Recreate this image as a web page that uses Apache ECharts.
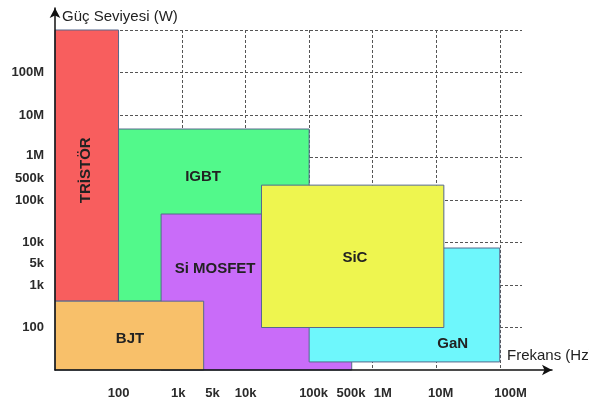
<!DOCTYPE html>
<html>
<head>
<meta charset="utf-8">
<script src="https://cdn.jsdelivr.net/npm/echarts@6/dist/echarts.min.js"></script>
<style>html,body{margin:0;padding:0;background:#fff;}#c{width:589px;height:406px;}</style>
</head>
<body>
<div id="c"></div>
<script>
// Device regions, in chart grid units (one unit = one decade gridline step)
const devices = ['TRİSTÖR', 'IGBT', 'Si MOSFET', 'GaN', 'SiC', 'BJT'];
const freqStart = [0.0, 1.0, 1.67, 4.0, 3.25, 0.0];
const freqEnd   = [1.0, 4.0, 4.67, 7.0, 6.12, 2.34];
const powStart  = [1.62, 1.62, 0.0, 0.19, 1.0, 0.0];
const powEnd    = [8.0, 5.67, 3.67, 2.87, 4.35, 1.62];
const labelFreq = [0.49, 2.33, 2.52, 6.26, 4.72, 1.18];
const labelPow  = [4.7, 4.54, 2.38, 0.61, 2.64, 0.73];
const colors = ['#F85E5E', '#52F98B', '#C96CF9', '#6EF7FC', '#EEF54F', '#F8C06A'];

// Tick labels and where they sit on the axes
const xTickLabels = ['100', '1k', '5k', '10k', '100k', '500k', '1M', '10M', '100M'];
const xTickPos    = [1.0, 1.94, 2.48, 3.0, 4.07, 4.66, 5.16, 6.07, 7.17];
const yTickLabels = ['100', '1k', '5k', '10k', '100k', '500k', '1M', '10M', '100M'];
const yTickPos    = [1.0, 2.0, 2.5, 3.0, 3.98, 4.5, 5.04, 6.0, 7.0];
const xGridLines = [1, 2, 3, 4, 5, 6, 7];
const yGridLines = [1, 2, 3, 4, 5, 6, 7, 8];

function lookup(pos, labels, v) {
  let best = 0, d = Infinity;
  pos.forEach((p, i) => { if (Math.abs(p - v) < d) { d = Math.abs(p - v); best = i; } });
  return labels[best];
}

const data = devices.map((n, i) => [freqStart[i], freqEnd[i], powStart[i], powEnd[i], labelFreq[i], labelPow[i], i]);

const chart = echarts.init(document.getElementById('c'));
const font = '"Liberation Sans", Arial, sans-serif';
chart.setOption({
  animation: false,
  grid: [
    { left: 55, right: 589 - 522, top: 30, bottom: 36, outerBoundsMode: 'none', containLabel: false },
    { left: 55, right: 37, top: 8, bottom: 36, outerBoundsMode: 'none', containLabel: false }
  ],
  xAxis: [
    {
      type: 'value', gridIndex: 0, min: 0, max: 7.35, interval: 1,
      axisLine: { show: false },
      axisTick: { show: false, customValues: xGridLines },
      splitLine: { show: true, lineStyle: { color: '#555', width: 1, type: [3, 2] } },
      axisLabel: {
        customValues: xTickPos, margin: 17, color: '#2a2a2a', fontSize: 13, fontWeight: 'bold', fontFamily: font,
        formatter: v => lookup(xTickPos, xTickLabels, v)
      }
    },
    {
      type: 'value', gridIndex: 1, min: 0, max: 1, z: 10,
      axisLine: { show: true, symbol: ['none', 'arrow'], symbolSize: [8, 10], lineStyle: { color: '#111', width: 1.5 } },
      axisTick: { show: false }, axisLabel: { show: false }, splitLine: { show: false },
      name: 'Frekans (Hz)', nameLocation: 'end', nameGap: -45,
      nameTextStyle: { align: 'left', verticalAlign: 'bottom', lineHeight: 28, fontSize: 15, color: '#222', fontFamily: font }
    }
  ],
  yAxis: [
    {
      type: 'value', gridIndex: 0, min: 0, max: 8, interval: 1,
      axisLine: { show: false },
      axisTick: { show: false, customValues: yGridLines },
      splitLine: { show: true, lineStyle: { color: '#555', width: 1, type: [3, 2] } },
      axisLabel: {
        customValues: yTickPos, margin: 11, color: '#2a2a2a', fontSize: 13, fontWeight: 'bold', fontFamily: font,
        formatter: v => lookup(yTickPos, yTickLabels, v)
      }
    },
    {
      type: 'value', gridIndex: 1, min: 0, max: 1, z: 10,
      axisLine: { show: true, symbol: ['none', 'arrow'], symbolSize: [8, 10], lineStyle: { color: '#111', width: 1.5 } },
      axisTick: { show: false }, axisLabel: { show: false }, splitLine: { show: false },
      name: 'Güç Seviyesi (W)', nameLocation: 'end', nameGap: -9,
      nameTextStyle: { align: 'left', verticalAlign: 'middle', padding: [0, 0, 0, 7], fontSize: 15, color: '#222', fontFamily: font }
    }
  ],
  series: [{
    type: 'custom',
    xAxisIndex: 0, yAxisIndex: 0,
    clip: false,
    data: data,
    renderItem: function (params, api) {
      const p0 = api.coord([api.value(0), api.value(3)]);
      const p1 = api.coord([api.value(1), api.value(2)]);
      const lp = api.coord([api.value(4), api.value(5)]);
      const idx = api.value(6);
      const isVert = idx === 0;
      return {
        type: 'group',
        children: [
          {
            type: 'rect',
            shape: { x: p0[0], y: p0[1], width: p1[0] - p0[0], height: p1[1] - p0[1] },
            style: { fill: colors[idx], stroke: '#56698c', lineWidth: 1 }
          },
          {
            type: 'text',
            x: lp[0], y: lp[1],
            rotation: isVert ? Math.PI / 2 : 0,
            style: {
              text: devices[idx], fill: '#222', font: 'bold 15px ' + font,
              align: 'center', verticalAlign: 'middle'
            }
          }
        ]
      };
    }
  }]
});
</script>
</body>
</html>
